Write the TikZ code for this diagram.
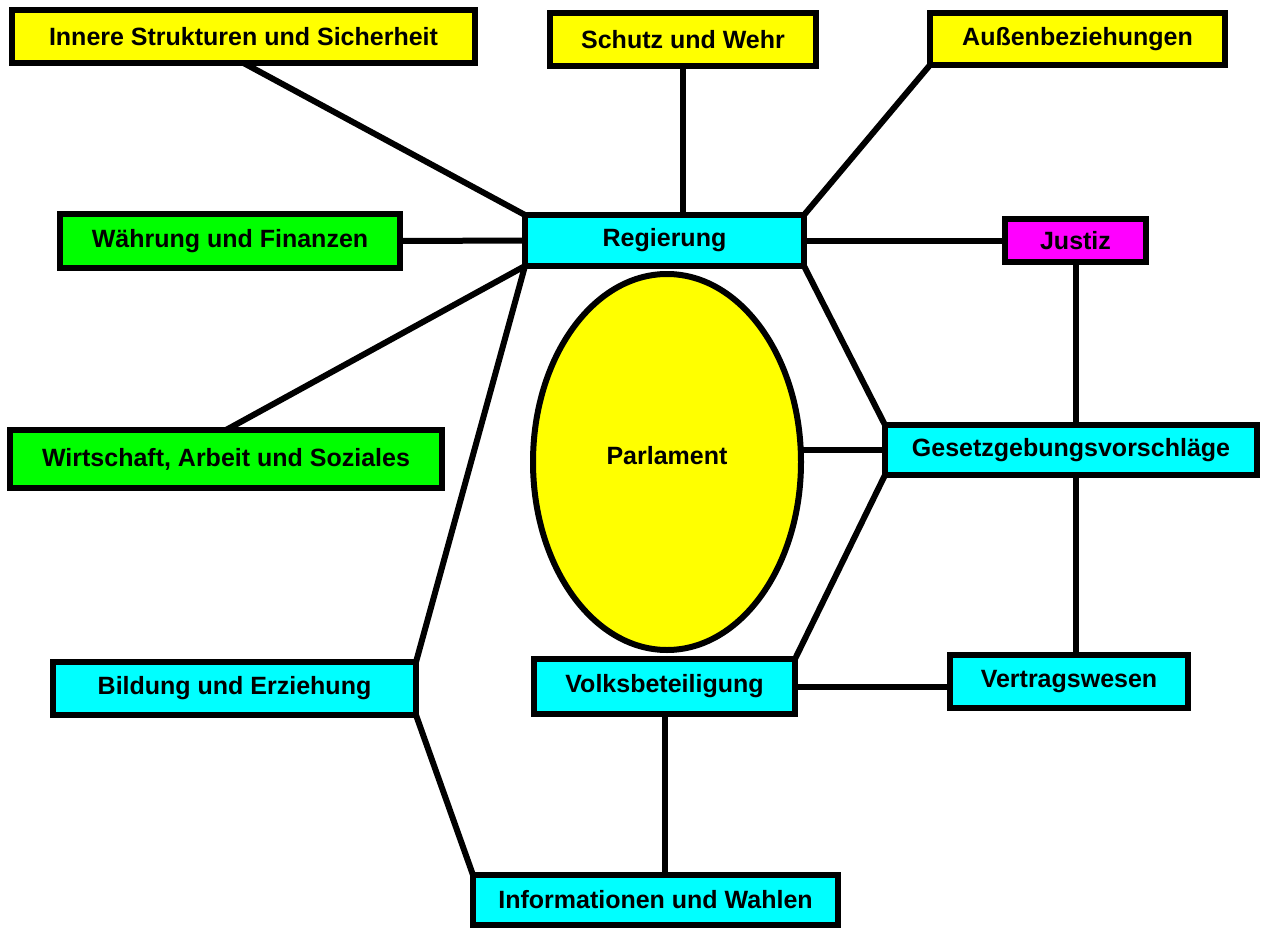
\documentclass[tikz,border=0pt]{standalone}
\usepackage{fontspec}
\setmainfont{Liberation Sans}
\usepackage{xcolor}
\usepackage{tikz}
\usetikzlibrary{shapes.geometric,positioning,calc}

\definecolor{gelb}{HTML}{FFFF00}
\definecolor{gruen}{HTML}{00FF00}
\definecolor{tuerkis}{HTML}{00FFFF}
\definecolor{lila}{HTML}{FF00FF}

\begin{document}
\begin{tikzpicture}[
  x=1pt, y=-1pt,
  ressort/.style={rectangle, draw=black, line width=6pt, inner sep=0pt, outer sep=0pt,
    text centered, font=\fontsize{25}{30}\selectfont\bfseries},
  kern/.style={ellipse, draw=black, line width=6pt, fill=gelb, inner sep=0pt, outer sep=0pt,
    font=\fontsize{25}{30}\selectfont\bfseries},
  verb/.style={line width=6pt, draw=black}
]
\useasboundingbox (0,0) rectangle (1263,928);

% obere Reihe
\node[ressort, fill=gelb, minimum width=463pt, minimum height=53pt] (Innere) at (243.5,36.5) {Innere Strukturen und Sicherheit};
\node[ressort, fill=gelb, minimum width=266pt, minimum height=53pt] (Schutz) at (683,39.5) {Schutz und Wehr};
\node[ressort, fill=gelb, minimum width=295pt, minimum height=52pt] (Aussen) at (1077.5,39) {Außenbeziehungen};

% mittlere Reihe
\node[ressort, fill=gruen, minimum width=340pt, minimum height=54pt] (Waehrung) at (230,241) {Währung und Finanzen};
\node[ressort, fill=tuerkis, minimum width=279pt, minimum height=51pt] (Regierung) at (664.5,240.5) {Regierung};
\node[ressort, fill=lila, minimum width=141pt, minimum height=43pt] (Justiz) at (1075.5,240.5) {Justiz};

\node[kern, minimum width=268pt, minimum height=376pt] (Parlament) at (667,462) {\raisebox{14pt}{Parlament}};
\node[ressort, fill=tuerkis, minimum width=372pt, minimum height=50pt] (Gesetz) at (1071,450) {Gesetzgebungsvorschläge};
\node[ressort, fill=gruen, minimum width=432pt, minimum height=58pt] (Wirtschaft) at (226,459) {Wirtschaft, Arbeit und Soziales};

% untere Reihe
\node[ressort, fill=tuerkis, minimum width=363pt, minimum height=53pt] (Bildung) at (234.5,688.5) {Bildung und Erziehung};
\node[ressort, fill=tuerkis, minimum width=261pt, minimum height=55pt] (Volk) at (664.5,686.5) {Volksbeteiligung};
\node[ressort, fill=tuerkis, minimum width=238pt, minimum height=53pt] (Vertrag) at (1069,681.5) {Vertragswesen};
\node[ressort, fill=tuerkis, minimum width=365pt, minimum height=50pt] (Info) at (655.5,900) {Informationen und Wahlen};

% Verbindungen
\draw[verb] (Innere.south) -- (Regierung.north west);
\draw[verb] (Schutz.south) -- (Schutz.south |- Regierung.north);
\draw[verb] (Aussen.south west) -- (Regierung.north east);
\draw[verb] (Waehrung.east) -- (Regierung.west);
\draw[verb] (Regierung.east) -- (Justiz.west);
\draw[verb] (Wirtschaft.north) -- (Regierung.south west);
\draw[verb] (Bildung.north east) -- (Regierung.south west);
\draw[verb] (Regierung.south east) -- (Gesetz.north west);
\draw[verb] (Justiz.south) -- (Justiz.south |- Gesetz.north);
\draw[verb] (Gesetz.west) -- (Gesetz.west -| Parlament.east);
\draw[verb] (Gesetz.south west) -- (Volk.north east);
\draw[verb] (Gesetz.south -| Justiz.south) -- (Vertrag.north -| Justiz.south);
\draw[verb] (Volk.east) -- (Volk.east -| Vertrag.west);
\draw[verb] (Volk.south) -- (Volk.south |- Info.north);
\draw[verb] (Bildung.south east) -- (Info.north west);

\end{tikzpicture}
\end{document}
